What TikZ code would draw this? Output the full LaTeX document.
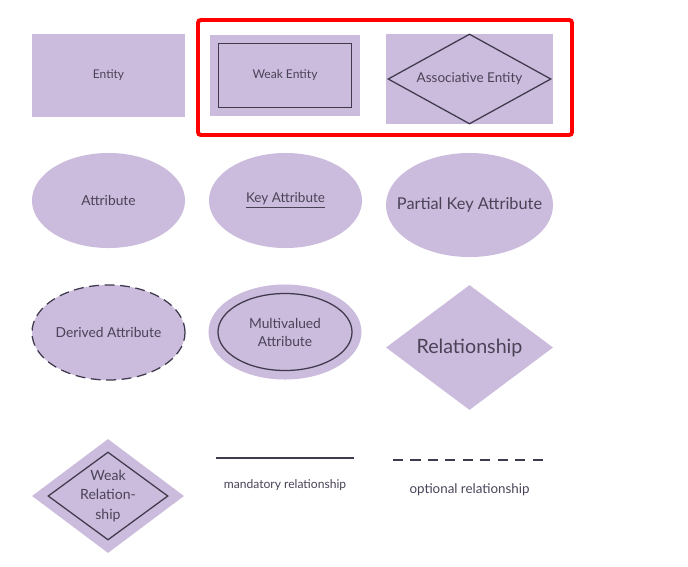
\documentclass[tikz,border=0pt]{standalone}
\usepackage{fontspec}
\setmainfont{Lato}
\usepackage{tikz}
\usetikzlibrary{shapes.geometric, positioning}
\usepackage{xcolor}
\definecolor{lilac}{RGB}{203,187,220}
\definecolor{inkline}{RGB}{64,58,78}
\definecolor{inktext}{RGB}{74,67,88}

\begin{document}
\begin{tikzpicture}[
    x=0.025cm, y=-0.025cm,
    ent/.style={rectangle, fill=lilac, inner sep=0pt,
                minimum width=3.825cm, minimum height=2.075cm,
                text=inktext, font=\fontsize{8.5}{10}\selectfont},
    inbox/.style={rectangle, draw=inkline, line width=0.9pt, inner sep=0pt},
    attr/.style={ellipse, fill=lilac, inner sep=0pt,
                 minimum width=3.825cm, minimum height=2.375cm,
                 text=inktext, font=\fontsize{9.8}{12.8}\selectfont, align=center},
    rel/.style={diamond, fill=lilac, inner sep=0pt, aspect=1.34,
                minimum width=4.175cm, minimum height=3.125cm,
                text=inktext, font=\fontsize{14}{16}\selectfont},
    lbl/.style={text=inktext, inner sep=0pt, align=center},
    legend/.style={text=inktext, font=\fontsize{8.6}{10}\selectfont},
    link/.style={inkline, line width=0.8pt},
]
  \useasboundingbox (0,0) rectangle (688,566);

  %% ---- first row: entities ----
  \node[ent] (entity) at (108.5,75.5) {Entity};
  \node[ent, minimum width=3.75cm, minimum height=2.025cm] (weakbg) at (285,75.5) {};
  \node[inbox, minimum width=3.325cm, minimum height=1.6cm,
        text=inktext, font=\fontsize{8.6}{10}\selectfont] (weakent) at (weakbg) {Weak Entity};
  \node[ent, minimum width=4.175cm, minimum height=2.25cm] (assocbg) at (469.5,79) {};
  \node[diamond, draw=inkline, line width=0.9pt, inner sep=0pt, aspect=1.8,
        minimum width=4.075cm, minimum height=2.25cm,
        text=inktext, font=\fontsize{9.6}{11}\selectfont] (assoc) at (assocbg) {Associative Entity};
  \draw[red, line width=2.8pt, rounded corners=2pt] (198,20) rectangle (572,135);

  %% ---- second row: attributes ----
  \node[attr] (attrib) at (108.5,200.5) {Attribute};
  \node[attr, font=\fontsize{9.6}{11}\selectfont] (keyattr) at (285.5,200.5) {\underline{Key Attribute}};
  \node[attr, minimum width=4.175cm, minimum height=2.6cm] (partbg) at (469.5,205) {};
  \node[lbl, font=\fontsize{11.6}{13}\selectfont] (partkey) at (partbg) {Partial Key Attribute};

  %% ---- third row ----
  \node[attr, draw=inkline, line width=0.9pt, dash pattern=on 7pt off 4pt] (derived) at (108.5,332.5) {Derived Attribute};
  \node[attr] (multibg) at (285,332) {};
  \node[ellipse, draw=inkline, line width=0.9pt, inner sep=0pt,
        minimum width=3.35cm, minimum height=1.925cm, align=center,
        text=inktext, font=\fontsize{9.8}{12.8}\selectfont] (multi) at (multibg) {Multivalued\\Attribute};
  \node[rel] (relship) at (469.5,347.5) {Relationship};

  %% ---- fourth row ----
  \node[rel, minimum width=3.8cm, minimum height=2.85cm] (weakrelbg) at (108,496) {};
  \node[diamond, draw=inkline, line width=0.9pt, inner sep=0pt, aspect=1.36,
        minimum width=3.0cm, minimum height=2.2cm] (weakrel) at (weakrelbg) {};
  \node[lbl, font=\fontsize{10}{14.2}\selectfont] (weakrellbl) at (weakrel) {Weak\\Relation-\\ship};

  %% ---- legend lines ----
  \coordinate (mandA) at (216,458);
  \coordinate (mandB) at (354,458);
  \draw[link] (mandA) -- (mandB);
  \node[legend] (mandlbl) at (285,485) {mandatory relationship};
  \coordinate (optA) at (393,460);
  \coordinate (optB) at (547,460);
  \draw[link, dash pattern=on 7.2pt off 5.2pt] (optA) -- (optB);
  \node[legend, font=\fontsize{9.5}{11}\selectfont] (optlbl) at (469.5,490) {optional relationship};

\end{tikzpicture}
\end{document}
